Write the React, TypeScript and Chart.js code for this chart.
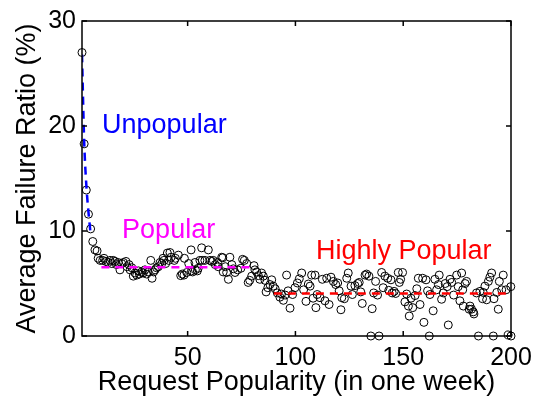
import React, { useEffect, useRef } from "react";
import { Chart, registerables } from "chart.js";

Chart.register(...registerables);

const FONT = "'Liberation Sans', Arial, Helvetica, sans-serif";

// Request popularity (x) and average failure ratio in % (y) of each request
const popX = [
  1, 2, 3, 4, 5, 6, 7, 8, 8.5, 9.4, 10.6, 11.2, 12.1, 13.2, 14, 14.8, 15.5, 16.3, 17, 17.8,
  18.6, 19.4, 20.2, 21.4, 22, 22.8, 23.3, 24.1, 24.8, 25.6, 26.4, 27.2, 27.6, 28.7, 29.4, 30.2,
  31, 31.7, 32.9, 33.5, 34.2, 34.9, 35.6, 36.4, 37.2, 38, 38.6, 39, 39.8, 40.6, 41.2, 41.8,
  42.3, 43.8, 44.3, 45.7, 46.8, 47.5, 48.3, 48.5, 49.6, 50.5, 51.6, 51.8, 52.3, 53.4, 53.6,
  54.5, 54.9, 55.7, 56.5, 56.8, 58, 59.6, 60.4, 61.2, 61.9, 62.8, 63.9, 64.2, 65.8, 66.3,
  66.5, 67.5, 68.1, 68.9, 69.6, 70.5, 71.2, 72, 73.2, 74.7, 75.5, 76.3, 77.4, 78.1, 78.8,
  79.7, 80.8, 81.2, 82, 82.8, 83.5, 84.3, 85.1, 85.9, 86.4, 87.2, 88.2, 89, 89.7, 90.6, 91.6,
  92.8, 93.5, 94.4, 95.2, 95.9, 96.6, 97.5, 98.7, 99.8, 100.9, 101.8, 102.9, 103.8, 104.9,
  106, 106.8, 107.5, 108.2, 109.1, 109.5, 110.1, 111.4, 112.5, 113.7, 114.5, 115.6, 116.5,
  117.6, 118.7, 119.6, 120.3, 121.1, 121.5, 122.7, 123.8, 124.5, 125.8, 126.4, 127.6, 128.9,
  129.6, 130.3, 131, 132.3, 133, 134.1, 135, 135.6, 136.3, 137.2, 138.1, 138.8, 140, 140.7,
  141.5, 142.8, 143.3, 144.3, 144.9, 145.8, 146.5, 147.7, 148.2, 148.8, 149.7, 150.8, 151.6,
  152.4, 152.8, 153.6, 154.4, 155.5, 156.3, 157, 157.8, 159, 159.6, 160.6, 161.3, 162.1,
  162.4, 163.9, 164.7, 165.5, 166.3, 166.7, 167.8, 168.6, 169.5, 170.4, 170.9, 171.7, 172.5,
  173.4, 174.8, 175.5, 176.3, 177.1, 177.6, 177.9, 178.7, 179.4, 180.6, 181, 181.7, 182.5,
  182.8, 184, 184.9, 185.6, 186.8, 187.1, 187.9, 188.7, 189.5, 190.2, 191, 191.8, 192.1,
  193.4, 194.1, 194.6, 195.7, 196.4, 197.7, 198.7, 199.9, 200,
];
const failY = [
  27.0, 18.3, 13.9, 11.6, 10.2, 9.0, 8.2, 8.1, 7.4, 7.2, 7.2, 7.4, 7.1, 7.0, 7.2, 6.9, 7.2, 7.1, 6.8, 7.0,
  6.3, 6.9, 7.0, 7.1, 6.6, 6.8, 6.3, 6.5, 5.7, 6.0, 5.8, 6.2, 5.9, 6.1, 6.0, 6.3,
  5.9, 6.1, 7.2, 5.5, 6.1, 6.3, 6.5, 6.6, 7.0, 6.9, 7.4, 7.2, 6.9, 7.9, 7.2, 7.95,
  7.5, 7.2, 7.4, 7.7, 5.75, 5.9, 5.8, 7.4, 6.05, 6.9, 8.2, 6.2, 6.1, 7.0, 6.3,
  6.2, 6.45, 7.2, 8.4, 7.2, 7.2, 8.2, 7.2, 7.1, 7.2, 6.8, 7.0, 6.6, 7.5, 7.45,
  6.1, 6.6, 6.05, 5.4, 7.5, 6.8, 6.4, 6.05, 6.3, 6.45, 7.3, 7.2, 6.9, 5.1, 5.3,
  5.7, 6.7, 6.3, 6.1, 5.75, 5.4, 6.0, 5.7, 5.3, 4.2, 4.6, 4.9, 5.35, 4.75, 4.5, 4.1,
  3.7, 4.0, 3.4, 3.9, 5.8, 4.3, 2.65, 3.95, 4.6, 5.05, 5.45, 6.0, 4.4, 3.3,
  4.95, 4.75, 5.8, 3.6, 5.8, 2.7, 3.95, 3.65, 5.4, 3.35, 5.5, 3.0, 5.6,
  5.2, 4.9, 5.05, 4.3, 2.5, 3.65, 3.55, 5.5, 6.0, 4.75, 3.95, 4.8, 5.0,
  5.1, 4.2, 3.1, 5.8, 5.9, 5.7, 0, 2.6, 4.1, 5.2, 3.9, 0, 6.05, 4.6,
  5.7, 5.5, 4.35, 5.35, 4.1, 4.25, 4.05, 6.05, 5.1, 5.4, 6.05, 3.25, 4.0,
  2.85, 1.9, 3.6, 2.7, 3.85, 4.5, 5.5, 3.0, 5.5, 1.3, 5.35, 4.3, 0,
  3.95, 2.4, 5.4, 4.4, 4.9, 5.8, 3.5, 4.1, 5.0, 4.7, 1.05, 5.4, 5.1,
  3.9, 5.8, 4.7, 3.35, 6.0, 4.4, 2.85, 5.0, 5.2, 2.55, 2.85, 2.55, 2.3,
  2.1, 4.1, 0, 4.25, 3.55, 4.15, 4.75, 3.45, 5.2, 5.6, 6.0, 0, 3.55,
  4.15, 2.55, 5.2, 4.4, 5.8, 4.4, 0.1, 4.7, 0,
];

// Fitted levels of the three groups
const unpopFitX = [1, 2, 3, 4, 5];
const unpopFitY = [26.8, 18.6, 14.4, 11.8, 9.7];
const popFitX = [10, 80];
const popFitY = [6.55, 6.55];
const highFitX = [90, 198];
const highFitY = [4.05, 4.05];

const xTicks = [50, 100, 150, 200];
const yTicks = [0, 10, 20, 30];

const labelTexts = ["Unpopular", "Popular", "Highly Popular"];
const labelX = [10.3, 19.6, 109.5];
const labelY = [20.0, 10.07, 8.0];
const labelColors = ["#0000ff", "#ff00ff", "#ff0000"];

const toPts = (xs: number[], ys: number[]) => xs.map((x, i) => ({ x, y: ys[i] }));

const boxPlugin = {
  id: "boxAndTicks",
  afterDatasetsDraw(chart: any) {
    const { ctx, chartArea, scales } = chart;
    const { left, right, top, bottom } = chartArea;
    ctx.save();
    ctx.strokeStyle = "#000";
    ctx.lineWidth = 1.5;
    ctx.setLineDash([]);
    ctx.strokeRect(left, top, right - left, bottom - top);
    const tl = 5;
    ctx.beginPath();
    xTicks.forEach((v) => {
      const px = scales.x.getPixelForValue(v);
      ctx.moveTo(px, bottom);
      ctx.lineTo(px, bottom - tl);
      ctx.moveTo(px, top);
      ctx.lineTo(px, top + tl);
    });
    yTicks.forEach((v) => {
      const py = scales.y.getPixelForValue(v);
      ctx.moveTo(left, py);
      ctx.lineTo(left + tl, py);
      ctx.moveTo(right, py);
      ctx.lineTo(right - tl, py);
    });
    ctx.stroke();
    ctx.font = `27px ${FONT}`;
    ctx.textAlign = "left";
    ctx.textBaseline = "middle";
    labelTexts.forEach((t, i) => {
      ctx.fillStyle = labelColors[i];
      ctx.fillText(t, scales.x.getPixelForValue(labelX[i]), scales.y.getPixelForValue(labelY[i]));
    });
    ctx.restore();
  },
};

export default function App() {
  const ref = useRef<HTMLCanvasElement | null>(null);
  useEffect(() => {
    if (!ref.current) return;
    const dash = [8, 6];
    const chart = new Chart(ref.current, {
      type: "scatter",
      data: {
        datasets: [
          {
            data: toPts(unpopFitX, unpopFitY),
            showLine: true,
            borderColor: "#0000ff",
            borderWidth: 2.5,
            borderDash: dash,
            pointRadius: 0,
            tension: 0.4,
            cubicInterpolationMode: "monotone",
          } as any,
          {
            data: toPts(popFitX, popFitY),
            showLine: true,
            borderColor: "#ff00ff",
            borderWidth: 2.5,
            borderDash: dash,
            pointRadius: 0,
          },
          {
            data: toPts(highFitX, highFitY),
            showLine: true,
            borderColor: "#ff0000",
            borderWidth: 2.5,
            borderDash: dash,
            pointRadius: 0,
          },
          {
            data: toPts(popX, failY),
            pointStyle: "circle",
            pointRadius: 4,
            pointBorderWidth: 1,
            pointBorderColor: "#000",
            pointBackgroundColor: "rgba(0,0,0,0)",
            showLine: false,
            clip: false,
          } as any,
        ],
      },
      options: {
        animation: false,
        responsive: true,
        maintainAspectRatio: false,
        layout: { padding: { top: 15, right: 35, left: 0, bottom: 0 } },
        plugins: { legend: { display: false }, tooltip: { enabled: false } },
        scales: {
          x: {
            type: "linear",
            min: 1,
            max: 200,
            afterBuildTicks: (s: any) => {
              s.ticks = xTicks.map((v) => ({ value: v }));
            },
            afterFit: (s: any) => {
              s.height = 62;
            },
            grid: { display: false, drawTicks: false },
            border: { display: false },
            ticks: {
              color: "#000",
              font: { size: 25, family: FONT },
              padding: 7,
              maxRotation: 0,
              autoSkip: false,
            },
            title: {
              display: true,
              text: "Request Popularity (in one week)",
              color: "#000",
              font: { size: 27, family: FONT },
              padding: { top: 0, bottom: -1 },
            },
          },
          y: {
            type: "linear",
            min: 0,
            max: 30,
            afterBuildTicks: (s: any) => {
              s.ticks = yTicks.map((v) => ({ value: v }));
            },
            afterFit: (s: any) => {
              s.width = 82;
            },
            grid: { display: false, drawTicks: false },
            border: { display: false },
            ticks: {
              color: "#000",
              font: { size: 25, family: FONT },
              padding: 6,
              autoSkip: false,
            },
            title: {
              display: true,
              text: "Average Failure Ratio (%)",
              color: "#000",
              font: { size: 27, family: FONT },
              padding: { top: 11, bottom: 0 },
            },
          },
        },
      },
      plugins: [boxPlugin],
    });
    return () => chart.destroy();
  }, []);
  return (
    <div style={{ position: "fixed", left: 0, top: 0, width: 546, height: 398, background: "#fff" }}>
      <canvas ref={ref} />
    </div>
  );
}
